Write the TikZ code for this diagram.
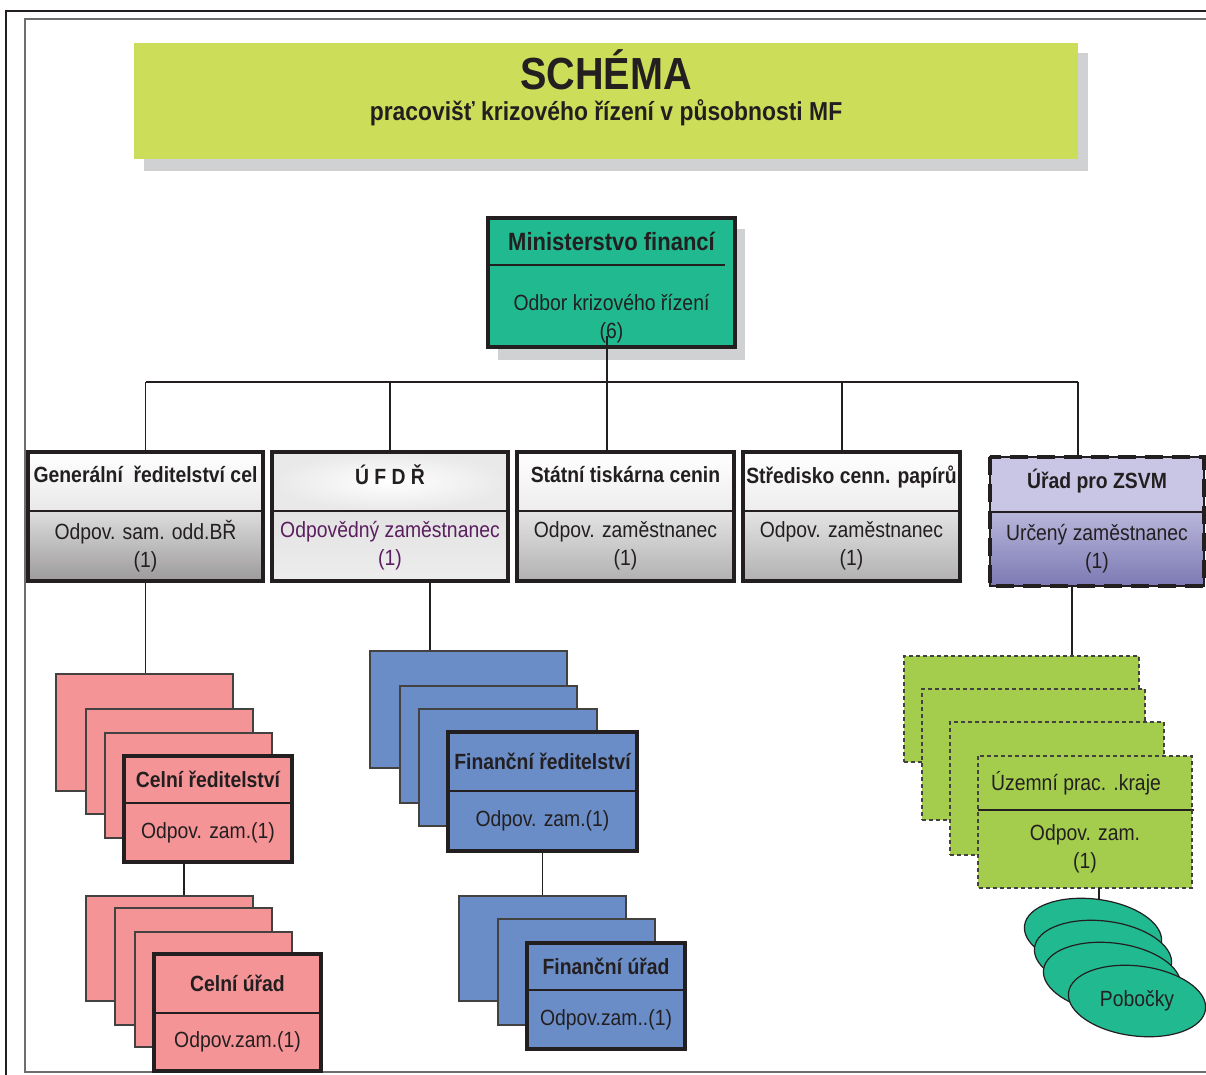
\documentclass[tikz,border=0pt]{standalone}
\usepackage{fontspec}
\setmainfont{Liberation Sans}[FakeStretch=0.88]
\usetikzlibrary{positioning, shapes.geometric}

\definecolor{ink}{RGB}{35,31,32}
\definecolor{banner}{RGB}{204,221,89}
\definecolor{shadowgray}{RGB}{208,209,211}
\definecolor{mfteal}{RGB}{32,185,144}
\definecolor{celpink}{RGB}{244,148,150}
\definecolor{finblue}{RGB}{106,141,200}
\definecolor{krajgreen}{RGB}{164,205,78}
\definecolor{zsvmtop}{RGB}{200,198,228}
\definecolor{zsvmlow}{RGB}{124,121,180}
\definecolor{ufdrtext}{RGB}{90,30,95}

\tikzset{
  part/.style={rectangle, draw=ink, line width=1.2pt, inner sep=0pt, outer sep=0pt,
    align=center, text=ink, font=\fontsize{22}{28}\selectfont},
  head/.style={part, font=\bfseries\fontsize{22}{28}\selectfont},
  frame/.style={draw=ink, line width=3.5pt},
  back/.style={rectangle, draw=ink!85, line width=1.2pt, inner sep=0pt},
  dashback/.style={back, dash pattern=on 4pt off 3pt},
  link/.style={draw=ink, line width=1.2pt},
  branch/.style={ellipse, draw=ink, line width=1.2pt, fill=mfteal, rotate=-7,
    minimum width=138pt, minimum height=70pt, inner sep=0pt, text=ink,
    font=\fontsize{22}{28}\selectfont},
}

\begin{document}
\begin{tikzpicture}[x=1pt, y=-1pt]
  \useasboundingbox (0,0) rectangle (1206,1074);
  \clip (0,0) rectangle (1206,1074);
  \fill[white] (0,0) rectangle (1206,1074);

  % page frames
  \draw[ink, line width=2.5pt] (1230,11) -- (6,11) -- (6,1090);
  \draw[ink!65, line width=2pt] (1230,19) -- (25,19) -- (25,1072) -- (1230,1072);

  % title banner
  \fill[shadowgray] (144,53) rectangle (1088,171);
  \node[rectangle, fill=banner, minimum width=944pt, minimum height=116pt, inner sep=0pt] (banner) at (606,101) {};
  \node[text=ink, font=\bfseries\fontsize{45}{50}\selectfont] (title) at (606,70) {SCHÉMA};
  \node[text=ink, font=\bfseries\fontsize{26}{30}\selectfont] (subtitle) at (606,113) {pracovišť krizového řízení v působnosti MF};

  % ministerstvo
  \node[head, fill=mfteal, draw=none, minimum width=247pt, minimum height=47pt,
    font=\bfseries\fontsize{25}{30}\selectfont] (mf) at (611.5,241.5) {Ministerstvo financí};
  \node[part, fill=mfteal, draw=none, minimum width=247pt, minimum height=82pt, below=0pt of mf] (mfb)
    {\rule{0pt}{42pt}Odbor krizového řízení\\(6)};
  \fill[shadowgray] ([shift={(0,11)}]mf.north east) rectangle ([shift={(10,13)}]mfb.south east);
  \fill[shadowgray] ([shift={(10,0)}]mfb.south west) rectangle ([shift={(10,13)}]mfb.south east);
  \draw[link] (mf.south west) -- ([xshift=-10pt]mf.south east);
  \draw[frame] (mf.north west) rectangle (mfb.south east);

  % second row
  \node[head, top color=white, bottom color=ink!10, minimum width=235pt, minimum height=59pt, text depth=14pt] (gen) at (145.5,481.5) {Generální\ \ ředitelství cel};
  \node[part, top color=ink!15, bottom color=ink!45, minimum width=235pt, minimum height=70pt, below=0pt of gen] (genb) {Odpov. sam. odd.BŘ\\(1)};
  \draw[frame] (gen.north west) rectangle (genb.south east);

  \node[head, inner color=white, outer color=ink!10, minimum width=236pt, minimum height=59pt, text depth=14pt] (ufd) at (390,481.5) {Ú F D Ř};
  \node[part, text=ufdrtext, top color=ink!13, bottom color=ink!8, minimum width=236pt, minimum height=70pt, below=0pt of ufd] (ufdb) {Odpovědný zaměstnanec\\(1)};
  \draw[frame] (ufd.north west) rectangle (ufdb.south east);

  \node[head, top color=white, bottom color=ink!8, minimum width=217pt, minimum height=59pt, text depth=14pt] (st) at (625.5,481.5) {Státní tiskárna cenin};
  \node[part, top color=ink!12, bottom color=ink!35, minimum width=217pt, minimum height=70pt, below=0pt of st] (stb) {Odpov. zaměstnanec\\(1)};
  \draw[frame] (st.north west) rectangle (stb.south east);

  \node[head, top color=white, bottom color=ink!8, minimum width=217pt, minimum height=59pt, text depth=14pt] (scp) at (851.5,481.5) {Středisko cenn. papírů};
  \node[part, top color=ink!12, bottom color=ink!35, minimum width=217pt, minimum height=70pt, below=0pt of scp] (scpb) {Odpov. zaměstnanec\\(1)};
  \draw[frame] (scp.north west) rectangle (scpb.south east);

  \node[head, fill=zsvmtop, minimum width=214pt, minimum height=55pt, text depth=12pt] (zs) at (1097,484.5) {Úřad pro ZSVM};
  \node[part, top color=zsvmtop!80!zsvmlow, bottom color=zsvmlow, minimum width=214pt, minimum height=74pt, below=0pt of zs] (zsb) {Určený zaměstnanec\\(1)};
  \draw[frame, dash pattern=on 18pt off 9pt] (zs.north west) rectangle (zsb.south east);

  % bus
  \coordinate (bus) at (0,382);
  \coordinate (mfs) at (607,336);
  \draw[link] (gen.north |- bus) -- ([xshift=-19pt]zs.north |- bus);
  \draw[link] (mfs) -- (mfs |- st.north);
  \draw[link] (gen.north) -- (gen.north |- bus);
  \draw[link] (ufd.north) -- (ufd.north |- bus);
  \draw[link] ([xshift=-9.5pt]scp.north) -- ([xshift=-9.5pt]scp.north |- bus);
  \draw[link] ([xshift=-19pt]zs.north) -- ([xshift=-19pt]zs.north |- bus);

  % celni reditelstvi
  \node[back, fill=celpink, minimum width=177pt, minimum height=117pt] (cr1) at (144.5,732.5) {};
  \node[back, fill=celpink, minimum width=167pt, minimum height=105pt] (cr2) at (169.5,761.5) {};
  \node[back, fill=celpink, minimum width=167pt, minimum height=105pt] (cr3) at (188.5,785.5) {};
  \node[head, fill=celpink, minimum width=168pt, minimum height=47pt] (cr) at (208,779.5) {Celní ředitelství};
  \node[part, fill=celpink, minimum width=168pt, minimum height=59pt, below=0pt of cr] (crb) {Odpov. zam.(1)};
  \draw[frame] (cr.north west) rectangle (crb.south east);
  \draw[link] (genb.south) -- (genb.south |- cr1.north);

  % celni urad
  \node[back, fill=celpink, minimum width=167pt, minimum height=105pt] (cu1) at (169.5,948.5) {};
  \node[back, fill=celpink, minimum width=157pt, minimum height=117pt] (cu2) at (193.5,966.5) {};
  \node[back, fill=celpink, minimum width=157pt, minimum height=115pt] (cu3) at (213.5,989.5) {};
  \node[head, fill=celpink, minimum width=167pt, minimum height=59pt] (cu) at (237.5,983.5) {Celní úřad};
  \node[part, fill=celpink, minimum width=167pt, minimum height=58pt, below=0pt of cu] (cub) {Odpov.zam.(1)};
  \draw[frame] (cu.north west) rectangle (cub.south east);
  \draw[link] ([xshift=-24pt]crb.south) -- ([xshift=-24pt]crb.south |- cu1.north);

  % financni reditelstvi
  \node[back, fill=finblue, minimum width=197pt, minimum height=117pt] (fr1) at (468.5,709.5) {};
  \node[back, fill=finblue, minimum width=177pt, minimum height=117pt] (fr2) at (488.5,744.5) {};
  \node[back, fill=finblue, minimum width=178pt, minimum height=117pt] (fr3) at (508,767.5) {};
  \node[head, fill=finblue, minimum width=189pt, minimum height=59pt] (fr) at (542.5,761.5) {Finanční ředitelství};
  \node[part, fill=finblue, minimum width=189pt, minimum height=60pt, below=0pt of fr] (frb) {Odpov. zam.(1)};
  \draw[frame] (fr.north west) rectangle (frb.south east);
  \draw[link] ([xshift=40pt]ufdb.south) -- ([xshift=40pt]ufdb.south |- fr1.north);

  % financni urad
  \node[back, fill=finblue, minimum width=167pt, minimum height=105pt] (fu1) at (542.5,948.5) {};
  \node[back, fill=finblue, minimum width=157pt, minimum height=106pt] (fu2) at (576.5,972) {};
  \node[head, fill=finblue, minimum width=158pt, minimum height=47pt] (fu) at (606,966.5) {Finanční úřad};
  \node[part, fill=finblue, minimum width=158pt, minimum height=59pt, below=0pt of fu] (fub) {Odpov.zam..(1)};
  \draw[frame] (fu.north west) rectangle (fub.south east);
  \draw[link] (frb.south) -- (frb.south |- fu1.north);

  % uzemni pracoviste
  \node[dashback, fill=krajgreen, minimum width=235pt, minimum height=106pt] (uz1) at (1021.5,709) {};
  \node[dashback, fill=krajgreen, minimum width=223pt, minimum height=131pt] (uz2) at (1033.5,754.5) {};
  \node[dashback, fill=krajgreen, minimum width=214pt, minimum height=133pt] (uz3) at (1057,788.5) {};
  \node[part, fill=krajgreen, draw=none, minimum width=214pt, minimum height=54pt] (uz) at (1085,783) {\hspace*{-18pt}Územní prac. .kraje};
  \node[part, fill=krajgreen, draw=none, minimum width=214pt, minimum height=78pt, below=0pt of uz] (uzb) {Odpov. zam.\\(1)};
  \draw[link] (uz.south west) -- ([xshift=2pt]uz.south east);
  \draw[dashback] (uz.north west) rectangle (uzb.south east);
  \draw[link] ([xshift=-25pt]zsb.south) -- ([xshift=-25pt]zsb.south |- uz1.north);

  % pobocky
  \node[branch] (po1) at (1093,934) {};
  \node[branch] (po2) at (1103,956) {};
  \node[branch] (po3) at (1112,978) {};
  \node[branch] (po4) at (1137,1001) {\rotatebox{7}{Pobočky}};
  \draw[link] ([xshift=14pt]uzb.south) -- ([xshift=14pt]uzb.south |- po1.north);
\end{tikzpicture}
\end{document}
